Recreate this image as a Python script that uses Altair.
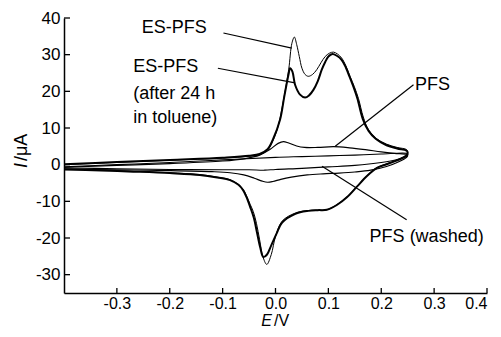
import altair as alt
import pandas as pd

# ---------------- data ----------------
X_TICKS = [-0.3, -0.2, -0.1, 0.0, 0.1, 0.2, 0.3, 0.4]
Y_TICKS = [-30, -20, -10, 0, 10, 20, 30, 40]

# ES-PFS (thin)
es_an_x = [-0.40, -0.30, -0.20, -0.10, -0.05, -0.03, -0.015, -0.005, 0.005, 0.015, 0.025, 0.031, 0.0357, 0.040, 0.045, 0.050, 0.056, 0.062, 0.070, 0.078, 0.086, 0.094, 0.102, 0.1096, 0.117, 0.125, 0.133, 0.141, 0.149, 0.157, 0.166, 0.176, 0.19, 0.21, 0.23, 0.248]
es_an_y = [0.0, 0.6, 1.2, 1.8, 2.3, 2.8, 4.0, 6.5, 10.5, 17.5, 26.0, 33.1, 34.8, 32.8, 29.5, 26.3, 24.6, 24.1, 24.6, 25.9, 27.8, 29.5, 30.4, 30.7, 30.2, 29.1, 27.0, 24.1, 21.3, 18.0, 13.0, 9.5, 7.2, 5.6, 4.7, 4.1]
es_ca_x = [0.25, 0.248, 0.24, 0.225, 0.21, 0.192, 0.173, 0.154, 0.135, 0.116, 0.097, 0.08, 0.0625, 0.0375, 0.0125, 0.0, -0.008, -0.0165, -0.024, -0.03, -0.036, -0.042, -0.048, -0.055, -0.061, -0.07, -0.086, -0.11, -0.143, -0.2, -0.269, -0.33, -0.4]
es_ca_y = [3.4, 2.7, 2.0, 1.0, 0.2, -0.8, -3.0, -5.9, -8.8, -10.9, -12.3, -12.4, -12.5, -13.2, -15.4, -19.6, -24.5, -27.2, -25.0, -20.5, -16.0, -12.8, -10.8, -8.4, -6.8, -5.4, -4.1, -3.4, -2.7, -2.2, -1.8, -1.5, -1.2]

# ES-PFS after 24 h in toluene (thick)
es24_an_x = [-0.40, -0.30, -0.20, -0.10, -0.05, -0.03, -0.015, -0.005, 0.0087, 0.0165, 0.0245, 0.0276, 0.032, 0.037, 0.0465, 0.056, 0.0635, 0.0717, 0.08, 0.0875, 0.094, 0.1, 0.1077, 0.116, 0.125, 0.133, 0.14, 0.148, 0.155, 0.165, 0.176, 0.19, 0.21, 0.23, 0.248]
es24_an_y = [0.1, 0.7, 1.3, 1.9, 2.4, 2.9, 4.2, 6.8, 12.3, 18.5, 24.5, 26.3, 25.4, 21.8, 19.1, 18.3, 18.9, 20.4, 22.8, 25.9, 28.0, 29.5, 30.2, 29.7, 28.6, 26.5, 24.0, 21.0, 18.0, 12.5, 9.2, 7.0, 5.3, 4.4, 3.8]
es24_ca_x = [0.25, 0.248, 0.24, 0.225, 0.21, 0.192, 0.173, 0.154, 0.135, 0.116, 0.097, 0.08, 0.0625, 0.0375, 0.0125, 0.002, -0.008, -0.016, -0.023, -0.029, -0.035, -0.041, -0.048, -0.055, -0.061, -0.07, -0.086, -0.11, -0.143, -0.2, -0.269, -0.33, -0.4]
es24_ca_y = [3.2, 2.5, 1.8, 0.9, 0.1, -0.9, -3.1, -6.0, -8.9, -11.0, -12.3, -12.4, -12.6, -13.4, -15.8, -18.8, -22.0, -24.5, -25.2, -22.5, -18.5, -14.5, -11.5, -8.8, -7.0, -5.5, -4.2, -3.5, -2.8, -2.3, -1.9, -1.6, -1.3]

# PFS
pfs_an_x = [-0.40, -0.30, -0.20, -0.10, -0.06, -0.03, -0.01, 0.005, 0.015, 0.025, 0.04, 0.055, 0.08, 0.11, 0.14, 0.17, 0.20, 0.225, 0.248]
pfs_an_y = [-0.7, -0.2, 0.3, 1.0, 1.6, 2.6, 4.2, 5.8, 6.3, 5.9, 5.1, 4.7, 4.7, 4.9, 4.6, 4.1, 3.5, 3.1, 2.8]
pfs_ca_x = [0.25, 0.248, 0.23, 0.21, 0.18, 0.15, 0.12, 0.09, 0.06, 0.03, 0.01, -0.005, -0.015, -0.025, -0.04, -0.06, -0.086, -0.12, -0.2, -0.3, -0.4]
pfs_ca_y = [2.6, 2.0, 0.6, -0.5, -1.5, -2.0, -2.3, -2.5, -2.8, -3.4, -4.0, -4.6, -4.8, -4.5, -3.7, -2.8, -2.2, -1.9, -1.6, -1.4, -1.2]

# PFS (washed)
wash_an_x = [-0.4, -0.3, -0.2, -0.1, 0.0, 0.05, 0.1, 0.15, 0.2, 0.248]
wash_an_y = [-0.6, 0.0, 0.6, 1.3, 2.0, 2.2, 2.4, 2.6, 2.9, 3.1]
wash_ca_x = [0.25, 0.248, 0.23, 0.2, 0.15, 0.1, 0.05, 0.0, -0.02, -0.05, -0.1, -0.2, -0.3, -0.4]
wash_ca_y = [2.8, 2.3, 1.4, 0.6, -0.2, -0.6, -1.0, -1.3, -1.5, -1.4, -1.4, -1.3, -1.1, -0.9]

# annotations
label_text = ["ES-PFS", "ES-PFS", "(after 24 h", "in toluene)", "PFS", "PFS (washed)"]
label_x = [-0.253, -0.269, -0.269, -0.269, 0.264, 0.178]
label_y = [37.4, 26.6, 19.4, 12.6, 21.8, -19.6]

leader_x1 = [-0.0985, -0.109, 0.261, 0.248]
leader_y1 = [35.9, 26.3, 21.8, -15.0]
leader_x2 = [0.0308, 0.037, 0.113, 0.088]
leader_y2 = [31.8, 22.3, 5.0, -0.4]

# ---------------- chart ----------------
FONT = "Liberation Sans"
W, H = 423, 275

xscale = alt.Scale(domain=[-0.4, 0.4], nice=False, zero=False)
yscale = alt.Scale(domain=[-35, 40], nice=False, zero=False)

xaxis = alt.Axis(values=X_TICKS, ticks=False, grid=False, title=None,
                 domainColor="black", domainWidth=1.5,
                 labelFont=FONT, labelFontSize=16, labelColor="black",
                 labelPadding=2,
                 labelExpr="replace(format(datum.value, '.1f'), '−', '-')")
yaxis = alt.Axis(values=Y_TICKS, ticks=False, grid=False, title=None,
                 domainColor="black", domainWidth=1.5,
                 labelFont=FONT, labelFontSize=17, labelColor="black",
                 labelPadding=4,
                 labelExpr="replace(format(datum.value, 'd'), '−', '-')")

X = alt.X("E:Q", scale=xscale, axis=xaxis)
Y = alt.Y("I:Q", scale=yscale, axis=yaxis)


def loop(ax, ay, cx, cy):
    xs = list(ax) + list(cx)
    ys = list(ay) + list(cy)
    return pd.DataFrame({"E": xs, "I": ys, "k": list(range(len(xs)))})


def curve(df, width):
    return alt.Chart(df).mark_line(color="black", strokeWidth=width,
                                   interpolate="catmull-rom").encode(
        x=X, y=Y, order="k:Q")


layers = [
    curve(loop(wash_an_x, wash_an_y, wash_ca_x, wash_ca_y), 1.1),
    curve(loop(pfs_an_x, pfs_an_y, pfs_ca_x, pfs_ca_y), 1.2),
    curve(loop(es_an_x, es_an_y, es_ca_x, es_ca_y), 1.0),
    curve(loop(es24_an_x, es24_an_y, es24_ca_x, es24_ca_y), 2.0),
]

# inward ticks
xt = alt.Chart(pd.DataFrame({"E": X_TICKS})).mark_rule(color="black", strokeWidth=1.3).encode(
    x=X, y=alt.value(H), y2=alt.value(H - 5))
yt = alt.Chart(pd.DataFrame({"I": Y_TICKS})).mark_rule(color="black", strokeWidth=1.3).encode(
    y=Y, x=alt.value(0), x2=alt.value(6))

leaders = alt.Chart(pd.DataFrame({"E": leader_x1, "I": leader_y1,
                                  "E2": leader_x2, "I2": leader_y2})).mark_rule(
    color="black", strokeWidth=1.2).encode(x=X, y=Y, x2="E2:Q", y2="I2:Q")

labels = alt.Chart(pd.DataFrame({"E": label_x, "I": label_y, "t": label_text})).mark_text(
    align="left", baseline="middle", font=FONT, fontSize=18, color="black").encode(
    x=X, y=Y, text="t:N")

one = pd.DataFrame({"a": [0]})
xt_E = alt.Chart(one).mark_text(text="E", align="right", baseline="alphabetic", font=FONT,
                                fontSize=16, fontStyle="italic", color="black").encode(
    x=alt.value(208), y=alt.value(H + 33))
xt_V = alt.Chart(one).mark_text(text="/V", align="left", baseline="alphabetic", font=FONT,
                                fontSize=16, color="black").encode(
    x=alt.value(210), y=alt.value(H + 33))
yt_I = alt.Chart(one).mark_text(text="I", align="right", baseline="middle", angle=270, font=FONT,
                                fontSize=18, fontStyle="italic", color="black").encode(
    x=alt.value(-42), y=alt.value(145))
yt_A = alt.Chart(one).mark_text(text="/μA", align="left", baseline="middle", angle=270, font=FONT,
                                fontSize=18, color="black").encode(
    x=alt.value(-42), y=alt.value(143))

chart = alt.layer(*layers, xt, yt, leaders, labels, xt_E, xt_V, yt_I, yt_A).properties(
    width=W, height=H,
    autosize=alt.AutoSizeParams(type="none"),
    padding={"left": 56, "top": 10, "right": 6, "bottom": 36},
).configure_view(stroke=None)

chart.save("out.html", embed_options={"renderer": "svg", "actions": False})
